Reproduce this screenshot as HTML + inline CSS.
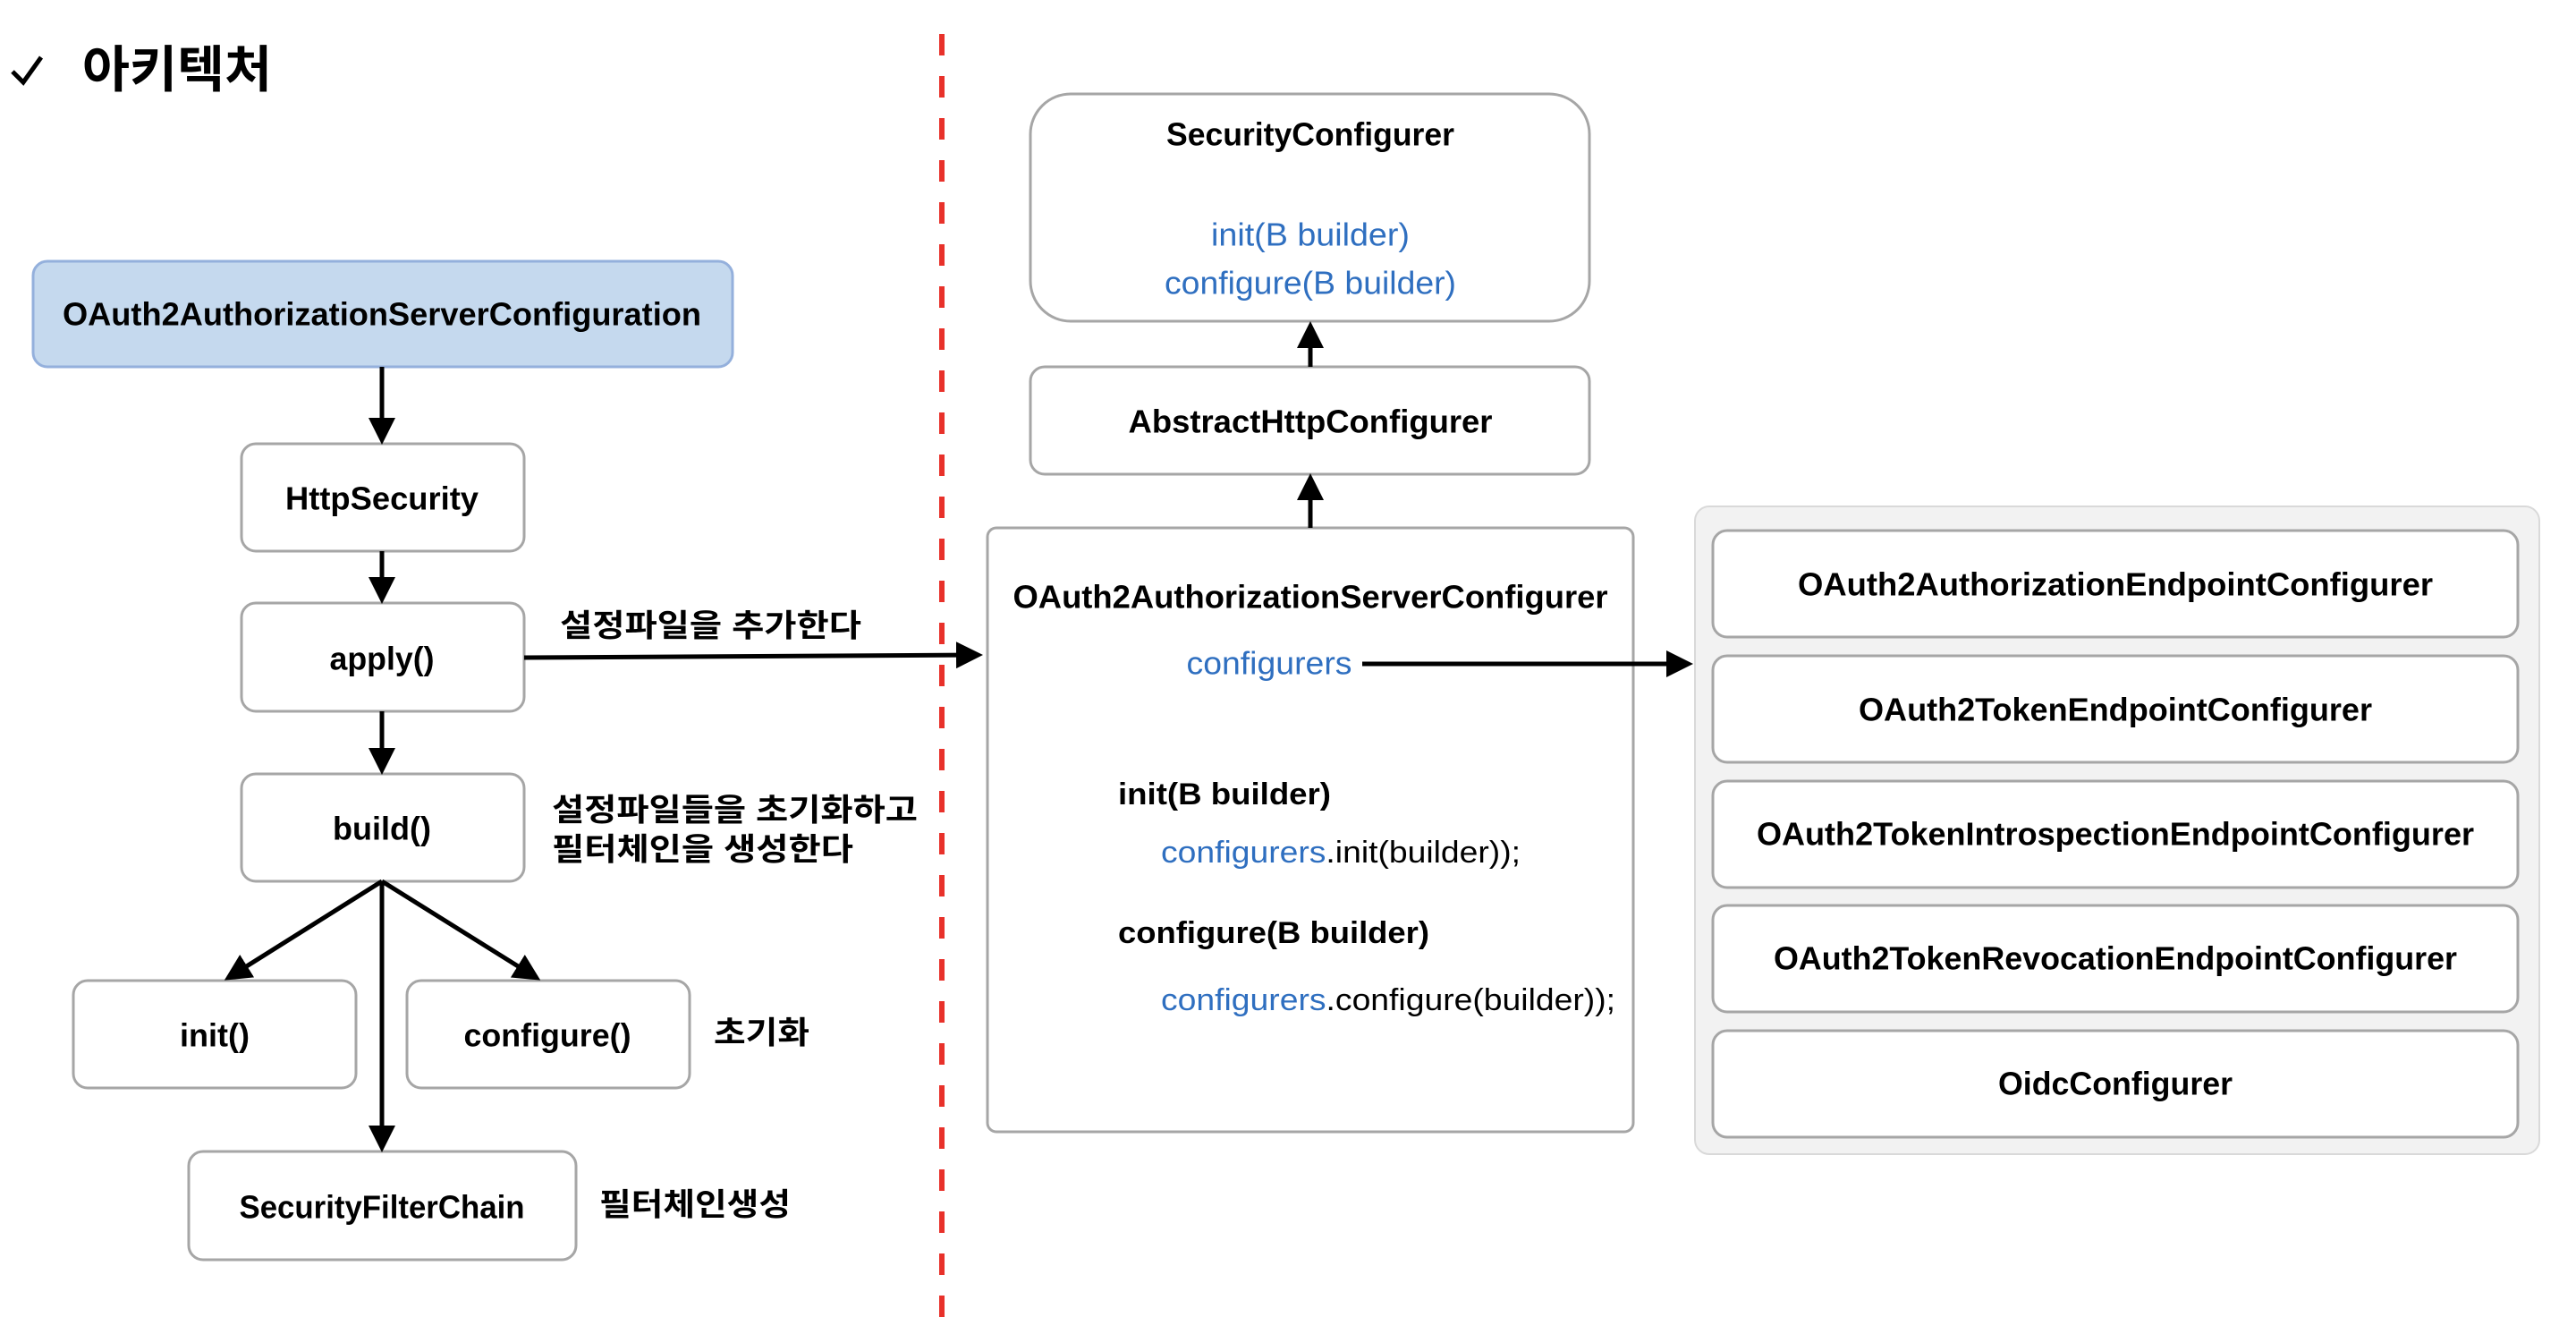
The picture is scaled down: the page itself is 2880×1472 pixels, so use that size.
<!DOCTYPE html>
<html><head><meta charset="utf-8"><style>
html,body{margin:0;padding:0;background:#fff;}
svg{display:block;}
text{font-family:"Liberation Sans","Noto Sans CJK KR",sans-serif;}
</style></head><body>
<svg width="2880" height="1472" viewBox="0 0 2880 1472" xmlns="http://www.w3.org/2000/svg">
<defs>
<marker id="ah" markerWidth="6" markerHeight="6" refX="5" refY="3" orient="auto" markerUnits="strokeWidth">
<path d="M0,0 L6,3 L0,6 z" fill="#000"/></marker>
</defs>
<!-- title -->
<path d="M14,80 L26,92 L46,64" stroke="#000" stroke-width="5" fill="none"/>
<text x="92" y="78" font-size="56" font-weight="bold" dominant-baseline="central" textLength="212" lengthAdjust="spacingAndGlyphs">아키텍처</text>

<!-- red dashed line -->
<line x1="1053" y1="38" x2="1053" y2="1472" stroke="#e8312a" stroke-width="6" stroke-dasharray="24 23"/>

<!-- left boxes -->
<rect x="37" y="292" width="782" height="118" rx="16" fill="#c5d9ee" stroke="#94b0dc" stroke-width="3"/>
<text x="427" y="351" font-size="36" font-weight="bold" text-anchor="middle" dominant-baseline="central" textLength="714" lengthAdjust="spacingAndGlyphs">OAuth2AuthorizationServerConfiguration</text>

<g fill="#fff" stroke="#a6a6a6" stroke-width="3">
<rect x="270" y="496" width="316" height="120" rx="16"/>
<rect x="270" y="674" width="316" height="121" rx="16"/>
<rect x="270" y="865" width="316" height="120" rx="16"/>
<rect x="82" y="1096" width="316" height="120" rx="16"/>
<rect x="455" y="1096" width="316" height="120" rx="16"/>
<rect x="211" y="1287" width="433" height="121" rx="16"/>
</g>
<g font-size="36" font-weight="bold" text-anchor="middle" dominant-baseline="central">
<text x="427" y="557" textLength="216" lengthAdjust="spacingAndGlyphs">HttpSecurity</text>
<text x="427" y="736" textLength="117" lengthAdjust="spacingAndGlyphs">apply()</text>
<text x="427" y="926" textLength="110" lengthAdjust="spacingAndGlyphs">build()</text>
<text x="240" y="1157" textLength="78" lengthAdjust="spacingAndGlyphs">init()</text>
<text x="612" y="1157" textLength="187" lengthAdjust="spacingAndGlyphs">configure()</text>
<text x="427" y="1349" textLength="319" lengthAdjust="spacingAndGlyphs">SecurityFilterChain</text>
</g>

<!-- left arrows -->
<g stroke="#000" stroke-width="5" marker-end="url(#ah)" fill="none">
<line x1="427" y1="410" x2="427" y2="492"/>
<line x1="427" y1="616" x2="427" y2="670"/>
<line x1="427" y1="795" x2="427" y2="861"/>
<line x1="427" y1="985" x2="255" y2="1093"/>
<line x1="427" y1="985" x2="600" y2="1093"/>
<line x1="427" y1="985" x2="427" y2="1283"/>
<line x1="586" y1="735" x2="1094" y2="732"/>
</g>

<!-- korean labels -->
<g font-size="35" font-weight="bold" dominant-baseline="central">
<text x="626" y="700" textLength="337" lengthAdjust="spacingAndGlyphs">설정파일을 추가한다</text>
<text x="617" y="906" textLength="409" lengthAdjust="spacingAndGlyphs">설정파일들을 초기화하고</text>
<text x="617" y="950" textLength="337" lengthAdjust="spacingAndGlyphs">필터체인을 생성한다</text>
<text x="798" y="1155" textLength="107" lengthAdjust="spacingAndGlyphs">초기화</text>
<text x="670" y="1347" textLength="214" lengthAdjust="spacingAndGlyphs">필터체인생성</text>
</g>

<!-- right side -->
<rect x="1152" y="105" width="625" height="254" rx="45" fill="#fff" stroke="#a6a6a6" stroke-width="3"/>
<rect x="1152" y="410" width="625" height="120" rx="16" fill="#fff" stroke="#a6a6a6" stroke-width="3"/>
<rect x="1104" y="590" width="722" height="675" rx="10" fill="#fff" stroke="#a6a6a6" stroke-width="3"/>

<g font-size="36" font-weight="bold" text-anchor="middle" dominant-baseline="central">
<text x="1465" y="150" textLength="322" lengthAdjust="spacingAndGlyphs">SecurityConfigurer</text>
<text x="1465" y="471" textLength="407" lengthAdjust="spacingAndGlyphs">AbstractHttpConfigurer</text>
<text x="1465" y="667" textLength="665" lengthAdjust="spacingAndGlyphs">OAuth2AuthorizationServerConfigurer</text>
</g>
<g font-size="36" fill="#2f6fc0" text-anchor="middle" dominant-baseline="central">
<text x="1465" y="262" textLength="222" lengthAdjust="spacingAndGlyphs">init(B builder)</text>
<text x="1465" y="316" textLength="326" lengthAdjust="spacingAndGlyphs">configure(B builder)</text>
<text x="1419" y="741" textLength="185" lengthAdjust="spacingAndGlyphs">configurers</text>
</g>
<g font-size="34" dominant-baseline="central">
<text x="1250" y="888" font-weight="bold" textLength="238" lengthAdjust="spacingAndGlyphs">init(B builder)</text>
<text x="1298" y="953" textLength="402" lengthAdjust="spacingAndGlyphs"><tspan fill="#2f6fc0">configurers</tspan>.init(builder));</text>
<text x="1250" y="1043" font-weight="bold" textLength="348" lengthAdjust="spacingAndGlyphs">configure(B builder)</text>
<text x="1298" y="1118" textLength="508" lengthAdjust="spacingAndGlyphs"><tspan fill="#2f6fc0">configurers</tspan>.configure(builder));</text>
</g>

<g stroke="#000" stroke-width="5" marker-end="url(#ah)" fill="none">
<line x1="1465" y1="410" x2="1465" y2="364"/>
<line x1="1465" y1="590" x2="1465" y2="534"/>
<line x1="1523" y1="742" x2="1888" y2="742"/>
</g>

<!-- grey container -->
<rect x="1895" y="566" width="944" height="724" rx="16" fill="#f2f2f2" stroke="#d9d9d9" stroke-width="2"/>
<g fill="#fff" stroke="#a6a6a6" stroke-width="3">
<rect x="1915" y="593" width="900" height="119" rx="16"/>
<rect x="1915" y="733" width="900" height="119" rx="16"/>
<rect x="1915" y="873" width="900" height="119" rx="16"/>
<rect x="1915" y="1012" width="900" height="119" rx="16"/>
<rect x="1915" y="1152" width="900" height="119" rx="16"/>
</g>
<g font-size="36" font-weight="bold" text-anchor="middle" dominant-baseline="central">
<text x="2365" y="653" textLength="710" lengthAdjust="spacingAndGlyphs">OAuth2AuthorizationEndpointConfigurer</text>
<text x="2365" y="793" textLength="574" lengthAdjust="spacingAndGlyphs">OAuth2TokenEndpointConfigurer</text>
<text x="2365" y="932" textLength="802" lengthAdjust="spacingAndGlyphs">OAuth2TokenIntrospectionEndpointConfigurer</text>
<text x="2365" y="1071" textLength="764" lengthAdjust="spacingAndGlyphs">OAuth2TokenRevocationEndpointConfigurer</text>
<text x="2365" y="1211" textLength="262" lengthAdjust="spacingAndGlyphs">OidcConfigurer</text>
</g>
</svg>
</body></html>
